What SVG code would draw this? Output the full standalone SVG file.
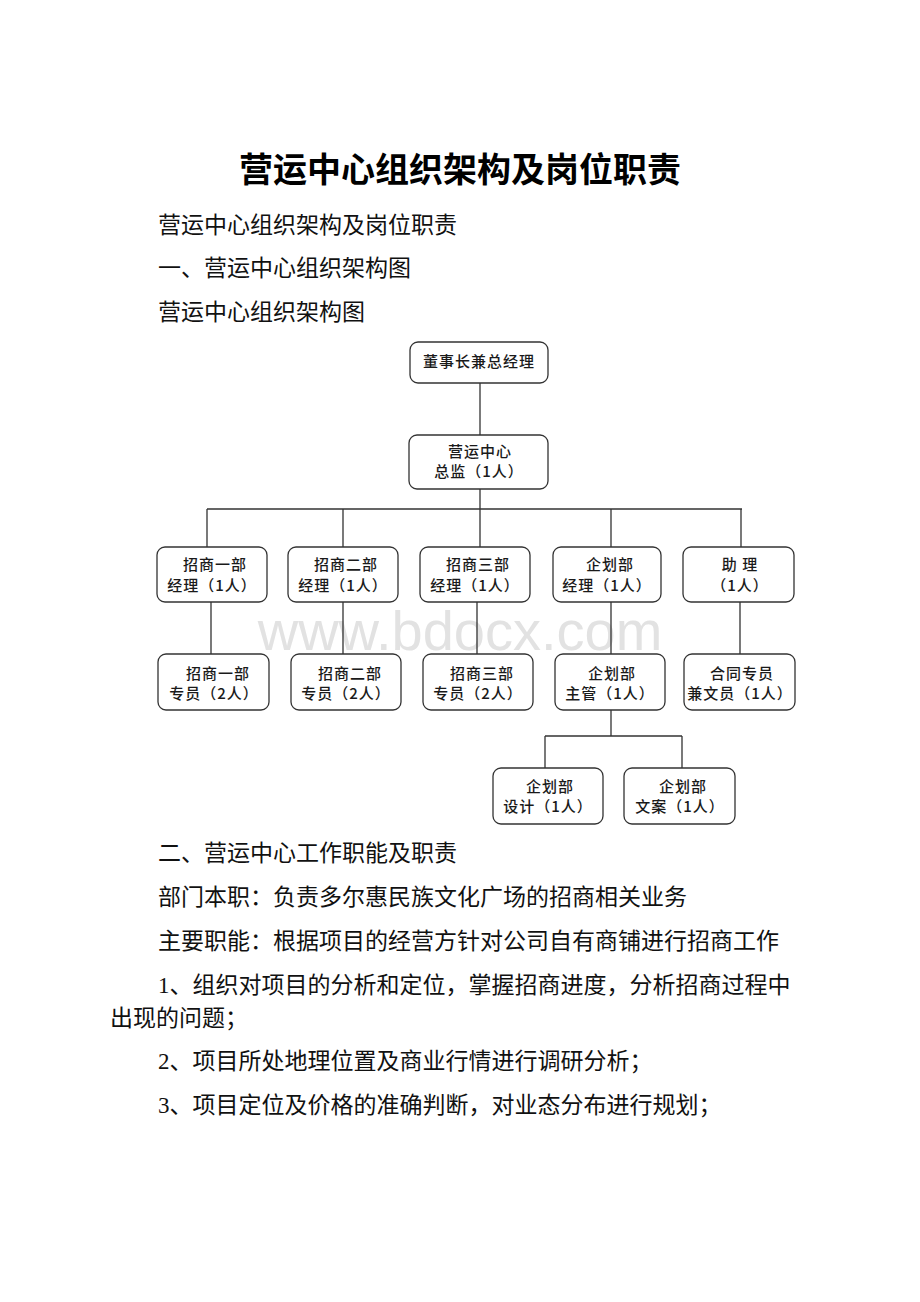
<svg xmlns="http://www.w3.org/2000/svg" width="920" height="1302" viewBox="0 0 920 1302">
<style>
.doc{font-family:"Liberation Serif","Noto Sans CJK SC",serif;font-size:23px;fill:#111}
.title{font-family:"Liberation Serif","Noto Sans CJK SC",serif;font-size:34px;font-weight:bold;fill:#000}
.box rect{fill:#fff;stroke:#333;stroke-width:1.3}
.box text{font-family:"Noto Sans CJK SC",sans-serif;font-size:15px;font-weight:500;letter-spacing:1px;fill:#1a1a1a;text-anchor:middle}
.wm{font-family:"Liberation Sans",Arial,sans-serif;font-size:56px;fill:#e2e2e2;text-anchor:middle}
#connectors path{fill:none;stroke:#333;stroke-width:1.3}
</style>
<rect width="920" height="1302" fill="#fff"/>
<text class="title" x="460" y="182" text-anchor="middle">营运中心组织架构及岗位职责</text>
<text class="doc" x="158" y="233">营运中心组织架构及岗位职责</text>
<text class="doc" x="158" y="276">一、营运中心组织架构图</text>
<text class="doc" x="158" y="320">营运中心组织架构图</text>
<text class="wm" x="460" y="650">www.bdocx.com</text>
<g id="connectors">
<path d="M480 383V435"/>
<path d="M480 489V509M207 509H742M207 509V547M343 509V547M480 509V547M611 509V547M741 509V547"/>
<path d="M211 602V654M343 602V654M477 602V654M611 602V654M740 602V654"/>
<path d="M611 710V736M545 736H682M545 736V768M682 736V768"/>
</g>
<g id="n-chairman" class="box"><rect x="410" y="342" width="138" height="41" rx="8"/><text x="479" y="367">董事长兼总经理</text></g>
<g id="n-director" class="box"><rect x="409" y="435" width="139" height="54" rx="8"/><text x="480" y="457">营运中心</text><text x="479" y="477">总监（1人）</text></g>
<g id="n-zs1" class="box"><rect x="157" y="547" width="110" height="55" rx="8"/><text x="215" y="570">招商一部</text><text x="212" y="591">经理（1人）</text></g>
<g id="n-zs2" class="box"><rect x="288" y="547" width="110" height="55" rx="8"/><text x="346" y="570">招商二部</text><text x="343" y="591">经理（1人）</text></g>
<g id="n-zs3" class="box"><rect x="420" y="547" width="110" height="55" rx="8"/><text x="478" y="570">招商三部</text><text x="475" y="591">经理（1人）</text></g>
<g id="n-qh" class="box"><rect x="553" y="547" width="108" height="55" rx="8"/><text x="610" y="570">企划部</text><text x="607" y="591">经理（1人）</text></g>
<g id="n-zl" class="box"><rect x="683" y="547" width="111" height="55" rx="8"/><text x="740" y="570">助  理</text><text x="740" y="591">（1人）</text></g>
<g id="n-zs1s" class="box"><rect x="158" y="654" width="111" height="56" rx="8"/><text x="218" y="679">招商一部</text><text x="214" y="699">专员（2人）</text></g>
<g id="n-zs2s" class="box"><rect x="291" y="654" width="110" height="56" rx="8"/><text x="350" y="679">招商二部</text><text x="346" y="699">专员（2人）</text></g>
<g id="n-zs3s" class="box"><rect x="423" y="654" width="110" height="56" rx="8"/><text x="482" y="679">招商三部</text><text x="478" y="699">专员（2人）</text></g>
<g id="n-qhzg" class="box"><rect x="555" y="654" width="110" height="56" rx="8"/><text x="612" y="679">企划部</text><text x="610" y="699">主管（1人）</text></g>
<g id="n-ht" class="box"><rect x="684" y="654" width="111" height="56" rx="8"/><text x="742" y="679">合同专员</text><text x="740" y="699">兼文员（1人）</text></g>
<g id="n-sj" class="box"><rect x="493" y="768" width="110" height="56" rx="8"/><text x="550" y="792">企划部</text><text x="548" y="812">设计（1人）</text></g>
<g id="n-wa" class="box"><rect x="624" y="768" width="111" height="56" rx="8"/><text x="683" y="792">企划部</text><text x="680" y="812">文案（1人）</text></g>
<text class="doc" x="158" y="861">二、营运中心工作职能及职责</text>
<text class="doc" x="158" y="905">部门本职：负责多尔惠民族文化广场的招商相关业务</text>
<text class="doc" x="158" y="949">主要职能：根据项目的经营方针对公司自有商铺进行招商工作</text>
<text class="doc" x="158" y="993">1、组织对项目的分析和定位，掌握招商进度，分析招商过程中</text>
<text class="doc" x="110" y="1026">出现的问题；</text>
<text class="doc" x="158" y="1069">2、项目所处地理位置及商业行情进行调研分析；</text>
<text class="doc" x="158" y="1113">3、项目定位及价格的准确判断，对业态分布进行规划；</text>
</svg>
